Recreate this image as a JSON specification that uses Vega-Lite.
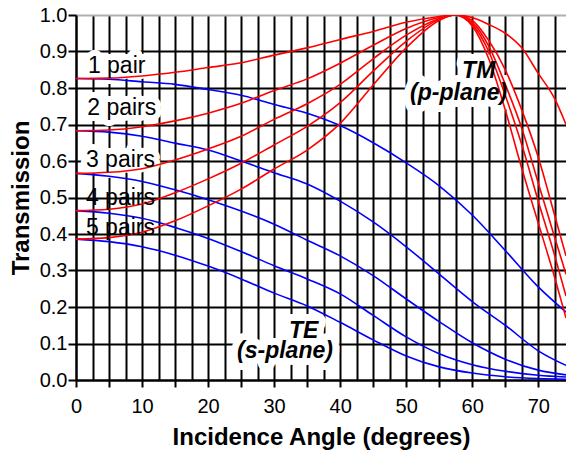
{
  "$schema": "https://vega.github.io/schema/vega-lite/v6.json",
  "width": 490,
  "height": 365,
  "autosize": "none",
  "padding": {"left": 76, "top": 15, "right": 0, "bottom": 73},
  "background": "white",
  "config": {"view": {"stroke": null}, "font": "Liberation Sans"},
  "datasets": {
    "curves": [
      {"series":"TE1","pol":"TE","angle":0,"T":0.826},{"series":"TE1","pol":"TE","angle":5,"T":0.824},{"series":"TE1","pol":"TE","angle":10,"T":0.817},{"series":"TE1","pol":"TE","angle":15,"T":0.81},{"series":"TE1","pol":"TE","angle":20,"T":0.796},{"series":"TE1","pol":"TE","angle":25,"T":0.78},{"series":"TE1","pol":"TE","angle":30,"T":0.755},{"series":"TE1","pol":"TE","angle":35,"T":0.731},{"series":"TE1","pol":"TE","angle":40,"T":0.697},{"series":"TE1","pol":"TE","angle":45,"T":0.65},{"series":"TE1","pol":"TE","angle":50,"T":0.595},{"series":"TE1","pol":"TE","angle":55,"T":0.532},{"series":"TE1","pol":"TE","angle":60,"T":0.452},{"series":"TE1","pol":"TE","angle":65,"T":0.355},{"series":"TE1","pol":"TE","angle":70,"T":0.255},{"series":"TE1","pol":"TE","angle":74.2,"T":0.186},
      {"series":"TE2","pol":"TE","angle":0,"T":0.683},{"series":"TE2","pol":"TE","angle":5,"T":0.679},{"series":"TE2","pol":"TE","angle":10,"T":0.668},{"series":"TE2","pol":"TE","angle":15,"T":0.649},{"series":"TE2","pol":"TE","angle":20,"T":0.63},{"series":"TE2","pol":"TE","angle":25,"T":0.6},{"series":"TE2","pol":"TE","angle":30,"T":0.568},{"series":"TE2","pol":"TE","angle":35,"T":0.537},{"series":"TE2","pol":"TE","angle":40,"T":0.49},{"series":"TE2","pol":"TE","angle":45,"T":0.433},{"series":"TE2","pol":"TE","angle":50,"T":0.365},{"series":"TE2","pol":"TE","angle":55,"T":0.29},{"series":"TE2","pol":"TE","angle":60,"T":0.215},{"series":"TE2","pol":"TE","angle":65,"T":0.15},{"series":"TE2","pol":"TE","angle":70,"T":0.08},{"series":"TE2","pol":"TE","angle":74.2,"T":0.04},
      {"series":"TE3","pol":"TE","angle":0,"T":0.566},{"series":"TE3","pol":"TE","angle":5,"T":0.558},{"series":"TE3","pol":"TE","angle":10,"T":0.544},{"series":"TE3","pol":"TE","angle":15,"T":0.521},{"series":"TE3","pol":"TE","angle":20,"T":0.494},{"series":"TE3","pol":"TE","angle":25,"T":0.463},{"series":"TE3","pol":"TE","angle":30,"T":0.427},{"series":"TE3","pol":"TE","angle":35,"T":0.383},{"series":"TE3","pol":"TE","angle":40,"T":0.34},{"series":"TE3","pol":"TE","angle":45,"T":0.286},{"series":"TE3","pol":"TE","angle":50,"T":0.222},{"series":"TE3","pol":"TE","angle":55,"T":0.16},{"series":"TE3","pol":"TE","angle":60,"T":0.102},{"series":"TE3","pol":"TE","angle":65,"T":0.057},{"series":"TE3","pol":"TE","angle":70,"T":0.027},{"series":"TE3","pol":"TE","angle":74.2,"T":0.014},
      {"series":"TE4","pol":"TE","angle":0,"T":0.464},{"series":"TE4","pol":"TE","angle":5,"T":0.457},{"series":"TE4","pol":"TE","angle":10,"T":0.443},{"series":"TE4","pol":"TE","angle":15,"T":0.418},{"series":"TE4","pol":"TE","angle":20,"T":0.388},{"series":"TE4","pol":"TE","angle":25,"T":0.352},{"series":"TE4","pol":"TE","angle":30,"T":0.313},{"series":"TE4","pol":"TE","angle":35,"T":0.277},{"series":"TE4","pol":"TE","angle":40,"T":0.236},{"series":"TE4","pol":"TE","angle":45,"T":0.177},{"series":"TE4","pol":"TE","angle":50,"T":0.118},{"series":"TE4","pol":"TE","angle":55,"T":0.072},{"series":"TE4","pol":"TE","angle":60,"T":0.042},{"series":"TE4","pol":"TE","angle":65,"T":0.024},{"series":"TE4","pol":"TE","angle":70,"T":0.013},{"series":"TE4","pol":"TE","angle":74.2,"T":0.008},
      {"series":"TE5","pol":"TE","angle":0,"T":0.386},{"series":"TE5","pol":"TE","angle":5,"T":0.379},{"series":"TE5","pol":"TE","angle":10,"T":0.365},{"series":"TE5","pol":"TE","angle":15,"T":0.342},{"series":"TE5","pol":"TE","angle":20,"T":0.312},{"series":"TE5","pol":"TE","angle":25,"T":0.277},{"series":"TE5","pol":"TE","angle":30,"T":0.238},{"series":"TE5","pol":"TE","angle":35,"T":0.203},{"series":"TE5","pol":"TE","angle":40,"T":0.158},{"series":"TE5","pol":"TE","angle":45,"T":0.11},{"series":"TE5","pol":"TE","angle":50,"T":0.066},{"series":"TE5","pol":"TE","angle":55,"T":0.036},{"series":"TE5","pol":"TE","angle":60,"T":0.019},{"series":"TE5","pol":"TE","angle":65,"T":0.009},{"series":"TE5","pol":"TE","angle":70,"T":0.004},{"series":"TE5","pol":"TE","angle":74.2,"T":0.002},
      {"series":"TM1","pol":"TM","angle":0,"T":0.826},{"series":"TM1","pol":"TM","angle":5,"T":0.827},{"series":"TM1","pol":"TM","angle":10,"T":0.833},{"series":"TM1","pol":"TM","angle":15,"T":0.843},{"series":"TM1","pol":"TM","angle":20,"T":0.856},{"series":"TM1","pol":"TM","angle":25,"T":0.869},{"series":"TM1","pol":"TM","angle":30,"T":0.89},{"series":"TM1","pol":"TM","angle":35,"T":0.91},{"series":"TM1","pol":"TM","angle":40,"T":0.933},{"series":"TM1","pol":"TM","angle":45,"T":0.955},{"series":"TM1","pol":"TM","angle":50,"T":0.98},{"series":"TM1","pol":"TM","angle":55,"T":0.996},{"series":"TM1","pol":"TM","angle":57.4,"T":1.0},{"series":"TM1","pol":"TM","angle":60,"T":0.993},{"series":"TM1","pol":"TM","angle":62.5,"T":0.974},{"series":"TM1","pol":"TM","angle":65,"T":0.95},{"series":"TM1","pol":"TM","angle":67.5,"T":0.91},{"series":"TM1","pol":"TM","angle":70,"T":0.84},{"series":"TM1","pol":"TM","angle":72.5,"T":0.77},{"series":"TM1","pol":"TM","angle":74.2,"T":0.7},
      {"series":"TM2","pol":"TM","angle":0,"T":0.683},{"series":"TM2","pol":"TM","angle":5,"T":0.685},{"series":"TM2","pol":"TM","angle":10,"T":0.694},{"series":"TM2","pol":"TM","angle":15,"T":0.71},{"series":"TM2","pol":"TM","angle":20,"T":0.731},{"series":"TM2","pol":"TM","angle":25,"T":0.758},{"series":"TM2","pol":"TM","angle":30,"T":0.793},{"series":"TM2","pol":"TM","angle":35,"T":0.825},{"series":"TM2","pol":"TM","angle":40,"T":0.868},{"series":"TM2","pol":"TM","angle":45,"T":0.917},{"series":"TM2","pol":"TM","angle":50,"T":0.963},{"series":"TM2","pol":"TM","angle":55,"T":0.993},{"series":"TM2","pol":"TM","angle":57.4,"T":1.0},{"series":"TM2","pol":"TM","angle":60,"T":0.985},{"series":"TM2","pol":"TM","angle":62.5,"T":0.93},{"series":"TM2","pol":"TM","angle":65,"T":0.85},{"series":"TM2","pol":"TM","angle":67.5,"T":0.74},{"series":"TM2","pol":"TM","angle":70,"T":0.61},{"series":"TM2","pol":"TM","angle":72.5,"T":0.45},{"series":"TM2","pol":"TM","angle":74.2,"T":0.34},
      {"series":"TM3","pol":"TM","angle":0,"T":0.566},{"series":"TM3","pol":"TM","angle":5,"T":0.569},{"series":"TM3","pol":"TM","angle":10,"T":0.579},{"series":"TM3","pol":"TM","angle":15,"T":0.603},{"series":"TM3","pol":"TM","angle":20,"T":0.633},{"series":"TM3","pol":"TM","angle":25,"T":0.668},{"series":"TM3","pol":"TM","angle":30,"T":0.714},{"series":"TM3","pol":"TM","angle":35,"T":0.757},{"series":"TM3","pol":"TM","angle":40,"T":0.81},{"series":"TM3","pol":"TM","angle":45,"T":0.88},{"series":"TM3","pol":"TM","angle":50,"T":0.945},{"series":"TM3","pol":"TM","angle":55,"T":0.99},{"series":"TM3","pol":"TM","angle":57.4,"T":1.0},{"series":"TM3","pol":"TM","angle":60,"T":0.98},{"series":"TM3","pol":"TM","angle":62.5,"T":0.915},{"series":"TM3","pol":"TM","angle":65,"T":0.81},{"series":"TM3","pol":"TM","angle":67.5,"T":0.69},{"series":"TM3","pol":"TM","angle":70,"T":0.54},{"series":"TM3","pol":"TM","angle":72.5,"T":0.39},{"series":"TM3","pol":"TM","angle":74.2,"T":0.29},
      {"series":"TM4","pol":"TM","angle":0,"T":0.464},{"series":"TM4","pol":"TM","angle":5,"T":0.468},{"series":"TM4","pol":"TM","angle":10,"T":0.482},{"series":"TM4","pol":"TM","angle":15,"T":0.513},{"series":"TM4","pol":"TM","angle":20,"T":0.551},{"series":"TM4","pol":"TM","angle":25,"T":0.594},{"series":"TM4","pol":"TM","angle":30,"T":0.644},{"series":"TM4","pol":"TM","angle":35,"T":0.695},{"series":"TM4","pol":"TM","angle":40,"T":0.76},{"series":"TM4","pol":"TM","angle":45,"T":0.846},{"series":"TM4","pol":"TM","angle":50,"T":0.928},{"series":"TM4","pol":"TM","angle":55,"T":0.988},{"series":"TM4","pol":"TM","angle":57.4,"T":1.0},{"series":"TM4","pol":"TM","angle":60,"T":0.975},{"series":"TM4","pol":"TM","angle":62.5,"T":0.9},{"series":"TM4","pol":"TM","angle":65,"T":0.78},{"series":"TM4","pol":"TM","angle":67.5,"T":0.645},{"series":"TM4","pol":"TM","angle":70,"T":0.49},{"series":"TM4","pol":"TM","angle":72.5,"T":0.34},{"series":"TM4","pol":"TM","angle":74.2,"T":0.23},
      {"series":"TM5","pol":"TM","angle":0,"T":0.386},{"series":"TM5","pol":"TM","angle":5,"T":0.39},{"series":"TM5","pol":"TM","angle":10,"T":0.405},{"series":"TM5","pol":"TM","angle":15,"T":0.436},{"series":"TM5","pol":"TM","angle":20,"T":0.477},{"series":"TM5","pol":"TM","angle":25,"T":0.523},{"series":"TM5","pol":"TM","angle":30,"T":0.578},{"series":"TM5","pol":"TM","angle":35,"T":0.63},{"series":"TM5","pol":"TM","angle":40,"T":0.703},{"series":"TM5","pol":"TM","angle":45,"T":0.808},{"series":"TM5","pol":"TM","angle":50,"T":0.91},{"series":"TM5","pol":"TM","angle":55,"T":0.985},{"series":"TM5","pol":"TM","angle":57.4,"T":1.0},{"series":"TM5","pol":"TM","angle":60,"T":0.97},{"series":"TM5","pol":"TM","angle":62.5,"T":0.88},{"series":"TM5","pol":"TM","angle":65,"T":0.74},{"series":"TM5","pol":"TM","angle":67.5,"T":0.58},{"series":"TM5","pol":"TM","angle":70,"T":0.43},{"series":"TM5","pol":"TM","angle":72.5,"T":0.28},{"series":"TM5","pol":"TM","angle":74.2,"T":0.17}
    ],
    "labels": [
      {"label":"1 pair","kind":"pair","angle":1.8,"T":0.841},
      {"label":"2 pairs","kind":"pair","angle":1.7,"T":0.726},
      {"label":"3 pairs","kind":"pair","angle":1.5,"T":0.584},
      {"label":"4 pairs","kind":"pair","angle":1.5,"T":0.479},
      {"label":"5 pairs","kind":"pair","angle":1.5,"T":0.397},
      {"label":"TM","kind":"mode","angle":63.5,"T":0.828},
      {"label":"(p-plane)","kind":"mode","angle":65.3,"T":0.767},
      {"label":"TE","kind":"mode","angle":36.7,"T":0.115},
      {"label":"(s-plane)","kind":"mode","angle":38.9,"T":0.06}
    ]
  },
  "encoding": {
    "x": {
      "field": "angle", "type": "quantitative",
      "scale": {"domain": [0, 74.2], "nice": false, "zero": false},
      "axis": {
        "title": "Incidence Angle (degrees)",
        "values": [0,2.5,5,7.5,10,12.5,15,17.5,20,22.5,25,27.5,30,32.5,35,37.5,40,42.5,45,47.5,50,52.5,55,57.5,60,62.5,65,67.5,70,72.5],
        "labelExpr": "datum.value % 10 === 0 ? format(datum.value, 'd') : ''",
        "labelFlush": false, "labelOverlap": false,
        "labelFontSize": 20, "labelColor": "black", "labelPadding": 9,
        "tickSize": 7, "tickWidth": 2,
        "tickColor": {"condition": {"test": "datum.value % 5 !== 0", "value": "rgba(0,0,0,0)"}, "value": "black"},
        "titleFontSize": 24, "titleFontWeight": "bold", "titleColor": "black", "titlePadding": 9,
        "grid": true, "gridColor": "black", "gridWidth": 2, "gridOpacity": 1,
        "domainColor": "black", "domainWidth": 2
      }
    },
    "y": {
      "field": "T", "type": "quantitative",
      "scale": {"domain": [0, 1], "nice": false},
      "axis": {
        "title": "Transmission",
        "values": [0,0.1,0.2,0.3,0.4,0.5,0.6,0.7,0.8,0.9,1],
        "format": ".1f",
        "labelFontSize": 20, "labelColor": "black", "labelPadding": 1,
        "tickSize": 8, "tickWidth": 2, "tickColor": "black",
        "titleFontSize": 24, "titleFontWeight": "bold", "titleColor": "black", "titlePadding": 6,
        "grid": true, "gridWidth": 2, "gridOpacity": 1,
        "gridColor": {"condition": {"test": "datum.value === 1", "value": "#b0b0b0"}, "value": "black"},
        "domainColor": "black", "domainWidth": 2
      }
    }
  },
  "layer": [
    {
      "data": {"name": "labels"},
      "transform": [{"filter": "datum.kind === 'pair' && datum.label !== '4 pairs' && datum.label !== '5 pairs'"}],
      "mark": {"type": "text", "align": "left", "baseline": "alphabetic", "fontSize": 23, "font": "Liberation Sans", "fill": "white", "stroke": "white", "strokeWidth": 12, "strokeJoin": "round"},
      "encoding": {"text": {"field": "label"}}
    },
    {
      "data": {"name": "labels"},
      "transform": [{"filter": "datum.kind === 'mode'"}],
      "mark": {"type": "text", "align": "right", "baseline": "alphabetic", "fontSize": 23, "fontWeight": "bold", "fontStyle": "italic", "font": "Liberation Sans", "fill": "white", "stroke": "white", "strokeWidth": 14, "strokeJoin": "round"},
      "encoding": {"text": {"field": "label"}}
    },
    {
      "data": {"name": "curves"},
      "transform": [{"filter": "datum.pol === 'TE'"}],
      "mark": {"type": "line", "strokeWidth": 1.6, "interpolate": "monotone", "clip": true, "color": "#0000ff"},
      "encoding": {"detail": {"field": "series"}, "order": {"field": "angle", "type": "quantitative"}}
    },
    {
      "data": {"name": "curves"},
      "transform": [{"filter": "datum.pol === 'TM'"}],
      "mark": {"type": "line", "strokeWidth": 1.6, "interpolate": "monotone", "clip": true, "color": "#ff0000"},
      "encoding": {"detail": {"field": "series"}, "order": {"field": "angle", "type": "quantitative"}}
    },
    {
      "data": {"name": "labels"},
      "transform": [{"filter": "datum.kind === 'pair'"}],
      "mark": {"type": "text", "align": "left", "baseline": "alphabetic", "fontSize": 23, "font": "Liberation Sans", "color": "black"},
      "encoding": {"text": {"field": "label"}}
    },
    {
      "data": {"name": "labels"},
      "transform": [{"filter": "datum.kind === 'mode'"}],
      "mark": {"type": "text", "align": "right", "baseline": "alphabetic", "fontSize": 23, "fontWeight": "bold", "fontStyle": "italic", "font": "Liberation Sans", "color": "black"},
      "encoding": {"text": {"field": "label"}}
    }
  ]
}
